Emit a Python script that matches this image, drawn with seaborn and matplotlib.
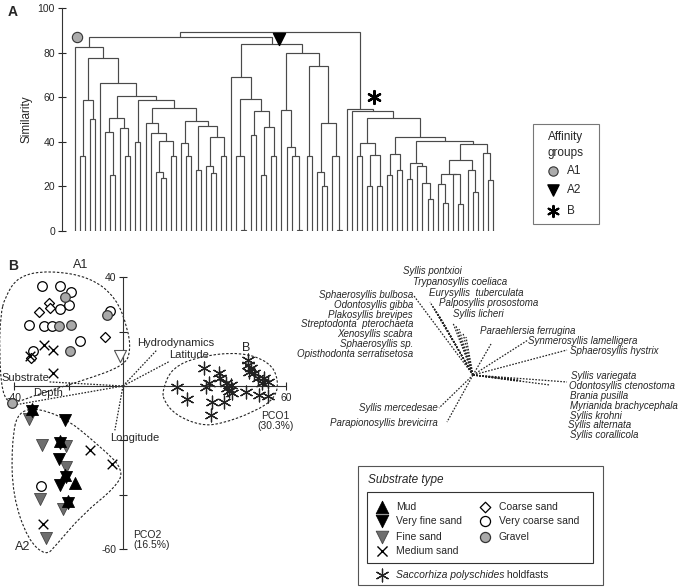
import numpy as np
import pandas as pd
import matplotlib
matplotlib.use("Agg")
import matplotlib.pyplot as plt
from matplotlib.path import Path
from matplotlib.patches import PathPatch, Rectangle
import seaborn as sns

# ---------------- panel A: cluster tree, node = (similarity, left, right) ----------------
L = None  # a single sample (leaf)

a1_tree = (82.4, L, (77.4,
    (58.7, (33.6, L, L), (50.1, L, L)),
    (66.2, L, (60.5,
        (50.5, (44.5, L, (25.1, L, L)), (46.0, L, (33.6, L, L))),
        (58.7, (40.1, L, L), (55.0,
            (48.6, L, (43.8, L, (40.5, (26.6, L, (23.6, L, L)), (33.6, L, L)))),
            (49.5, (39.3, L, (33.6, L, L)),
                   (47.1, (27.4, L, L),
                          (42.0, (29.1, L, (25.9, L, L)), (33.6, L, L))))))))))

a2_tree = (83.9,
    (68.9, L, (59.2, (33.6, L, (0.4, L, L)),
                     (53.9, (43.0, L, L), (46.5, (25.1, L, L), (33.6, L, L))))),
    (79.7, (54.3, L, (37.8, L, (33.6, L, (0.4, L, L)))),
           (74.0, (33.6, L, L),
                  (48.6, (26.6, L, (20.2, L, L)), (33.6, L, (0.4, L, L))))))

b_tree = (54.6, L, (53.8, L, (50.8,
    (39.6, (33.6, L, L), (34.1, (20.2, L, L), (20.2, L, L))),
    (42.2, (34.5, (25.1, L, L), (27.4, L, L)),
           (40.5, (30.6, (23.3, L, L), (29.1, L, (21.7, L, (14.2, L, L)))),
                  (39.0, (31.8, (25.6, (21.1, L, (12.4, L, L)), (25.4, L, (12.0, L, L))),
                                (27.4, L, (17.6, L, L))),
                         (35.1, L, (22.9, L, L))))))))

a1_a2_height = 87.1
root_height = 89.4
sim_ticks = [0, 20, 40, 60, 80, 100]
affinity_labels = ["A1", "A2", "B"]

# ---------------- panel B: PCO ordination ----------------
mud_x = [-33.6, -23.0, -21.4, -17.8, -20.2]
mud_y = [-8.5, -20.4, -32.7, -35.7, -42.3]
vfine_x = [-33.6, -21.5, -23.0, -23.6, -21.1, -23.3, -20.2]
vfine_y = [-9.3, -12.6, -21.0, -26.8, -33.6, -36.4, -43.1]
fine_x = [-34.4, -29.8, -20.9, -20.9, -30.5, -22.1, -28.3]
fine_y = [-12.2, -21.6, -21.9, -29.9, -41.4, -45.3, -55.8]
fine_pale_x = [-1.1]
fine_pale_y = [11.1]
medium_x = [-28.9, -25.8, -25.8, -34.2, -12.2, -4.2, -29.5]
medium_y = [15.2, 13.3, 4.7, 11.1, -23.7, -28.6, -50.9]
coarse_x = [-27.3, -31.0, -26.8, -6.7, -33.8]
coarse_y = [30.4, 27.2, 28.8, 18.0, 10.2]
vcoarse_x = [-29.8, -23.1, -19.0, -23.3, -19.9, -34.7, -29.1, -26.0, -15.7, -33.2, -4.8, -30.1]
vcoarse_y = [36.8, 36.8, 34.6, 28.4, 29.6, 22.6, 22.2, 22.2, 16.4, 12.7, 27.5, -36.7]
gravel_x = [-21.5, -23.6, -19.3, -5.8, -19.6, -40.9]
gravel_y = [32.7, 22.2, 22.6, 26.0, 12.7, -6.4]
kelp_x = [19.9, 23.6, 29.8, 30.4, 31.6, 35.3, 35.8, 32.8, 32.2, 37.2, 38.4, 39.0, 39.6, 38.0,
          40.0, 45.8, 46.5, 48.3, 49.6, 52.0, 53.2, 45.2, 50.1, 53.2, 51.0, 46.0, 47.0]
kelp_y = [-0.2, -4.6, 6.5, -0.2, 1.0, 4.7, 2.8, -5.8, -10.7, -5.8, -0.7, -1.9, 0.5, 1.2,
          -2.5, 7.8, 5.3, 4.7, 2.8, 2.8, 1.6, -2.1, -3.3, -3.7, 1.0, 9.5, 6.5]

a1_hull_x = [-43.5, -38.5, -27.0, -12.0, -2.5, 1.8, 2.8, 0.6, -14.7, -30.7, -41.0, -44.5, -45.5, -45.0]
a1_hull_y = [32.5, 40.5, 42.5, 40.0, 32.5, 21.0, 13.0, 7.5, 2.0, -2.8, -6.8, -3.0, 13.3, 26.0]
a2_hull_x = [-38.5, -23.3, -8.0, 0.5, -3.0, -14.7, -24.6, -28.3, -35.0, -40.5, -41.0]
a2_hull_y = [-7.5, -10.0, -22.5, -31.0, -37.5, -47.0, -58.5, -62.5, -56.5, -40.4, -21.9]
b_hull_x = [14.5, 18.0, 28.5, 43.3, 54.0, 57.2, 56.0, 48.3, 35.9, 28.5, 19.5, 15.0]
b_hull_y = [-1.5, 6.8, 11.0, 12.5, 8.8, 2.2, -4.5, -9.5, -14.0, -14.5, -10.8, -5.5]

env_names = ["Hydrodynamics", "Latitude", "Substrate", "Depth", "Longitude"]
env_x = [12.5, 17.0, -27.0, -40.0, -3.0]
env_y = [13.3, 9.0, 1.5, -7.0, -16.3]
env_lab_x = [5.1, 16.8, -44.6, -33.2, -4.8]
env_lab_y = [15.8, 11.5, 3.1, -2.7, -19.1]
pco_ticks_x = [-40, -20, 0, 20, 40, 60]
pco_ticks_y = [-60, -40, -20, 0, 20, 40]

# species correlation vectors (px units, y up) and label anchors (px, y down)
sp_names = ["Sphaerosyllis bulbosa", "Odontosyllis gibba", "Plakosyllis brevipes",
            "Streptodonta  pterochaeta", "Xenosyllis scabra", "Sphaerosyllis sp.",
            "Opisthodonta serratisetosa",
            "Syllis pontxioi", "Trypanosyllis coeliaca", "Eurysyllis  tuberculata",
            "Palposyllis prosostoma", "Syllis licheri",
            "Paraehlersia ferrugina", "Synmerosyllis lamelligera", "Sphaerosyllis hystrix",
            "Syllis variegata", "Odontosyllis ctenostoma", "Brania pusilla",
            "Myrianida brachycephala", "Syllis krohni", "Syllis alternata", "Syllis corallicola",
            "Syllis mercedesae", "Parapionosyllis brevicirra"]
sp_dx = [-59, -43, -41, -39, -37, -35, -33, -20, -17, -14, -10, -7, 18, 55, 94,
         94, 77, 48, 46, 44, 42, 40, -34, -26]
sp_dy = [79, 73, 70, 67, 64, 61, 58, 52, 49, 46, 42, 38, 31, 35, 25,
         -7, -10, -6, -5, -6, -5, -4, -33, -47]
sp_lab_x = [413, 413, 413, 413, 413, 413, 413, 403, 413, 429, 439, 453, 480, 528, 570,
            571, 569, 570, 570, 570, 568, 570, 438, 438]
sp_lab_y = [295, 305, 315, 324, 334, 344, 354, 271, 282, 293, 303, 314, 331, 341, 351,
            376, 386, 396, 406, 416, 425, 435, 408, 423]
sp_ha = ["right"] * 7 + ["left"] * 15 + ["right"] * 2

# ---------------- style ----------------
sns.set_style("white")
plt.rcParams["font.family"] = ["Liberation Sans", "DejaVu Sans"]
plt.rcParams["axes.unicode_minus"] = False

W, H = 685, 587
fig = plt.figure(figsize=(W / 100, H / 100), dpi=100)


def px_axes(x0, y0, x1, y1):
    return fig.add_axes([x0 / W, 1 - y1 / H, (x1 - x0) / W, (y1 - y0) / H])


def walk(node, counter, segs):
    if node is None:
        counter[0] += 1
        return counter[0] - 1, 0.0
    h, left, right = node
    xl, hl = walk(left, counter, segs)
    xr, hr = walk(right, counter, segs)
    segs.append(([xl, xl, xr, xr], [hl, h, h, hr]))
    return (xl + xr) / 2.0, h


def smooth_hull(ax, xs, ys, **kw):
    pts = np.column_stack([xs, ys])
    mids = (pts + np.roll(pts, -1, axis=0)) / 2
    verts, codes = [mids[-1]], [Path.MOVETO]
    for i in range(len(pts)):
        verts += [pts[i], mids[i]]
        codes += [Path.CURVE3, Path.CURVE3]
    ax.add_patch(PathPatch(Path(verts, codes), fill=False, **kw))


# ---------------- panel A ----------------
counter, segs = [0], []
a1_x, a1_h = walk(a1_tree, counter, segs)
a2_x, a2_h = walk(a2_tree, counter, segs)
b_x, b_h = walk(b_tree, counter, segs)
segs.append(([a1_x, a1_x, a2_x, a2_x], [a1_h, a1_a2_height, a1_a2_height, a2_h]))
a12_x = (a1_x + a2_x) / 2
segs.append(([a12_x, a12_x, b_x, b_x], [a1_a2_height, root_height, root_height, b_h]))
n_leaves = counter[0]

axA = px_axes(62, 8, 500, 231)
unit = (493 - 75) / (n_leaves - 1)
for xs, ys in segs:
    axA.plot(xs, ys, color="#4a4a4a", lw=0.85, solid_joinstyle="miter")
axA.scatter([a1_x - 2.3], [87.0], s=55, color="#ababab", edgecolor="#333333",
            linewidth=0.8, zorder=5, clip_on=False)
axA.scatter([a2_x + 1.5], [86.0], s=75, marker="v", color="black", zorder=5, clip_on=False)
axA.scatter([b_x + 2.8], [60.0], s=85, marker=(6, 2, 0), color="black",
            linewidth=1.7, zorder=5, clip_on=False)
axA.set_xlim(-(75 - 62) / unit, (n_leaves - 1) + (500 - 493) / unit)
axA.set_ylim(0, 100)
axA.set_yticks(sim_ticks)
axA.set_xticks([])
axA.tick_params(axis="y", direction="inout", length=6, width=0.8, labelsize=7.5,
                pad=2, left=True)
for s in ["top", "right", "bottom"]:
    axA.spines[s].set_visible(False)
axA.spines["left"].set_linewidth(0.8)
axA.spines["left"].set_color("#333333")
axA.set_ylabel("Similarity", fontsize=8.5)
axA.yaxis.set_label_coords(-0.068, 0.5)
axA.patch.set_visible(False)

# ---------------- panel B ----------------
axB = px_axes(0, 255, 300, 575)
ox, oy, sc = 123, 386, 2.72
axB.set_xlim((0 - ox) / sc, (300 - ox) / sc)
axB.set_ylim((oy - 575) / sc, (oy - 255) / sc)
axB.patch.set_visible(False)

for hx, hy in [(a1_hull_x, a1_hull_y), (a2_hull_x, a2_hull_y), (b_hull_x, b_hull_y)]:
    smooth_hull(axB, hx, hy, ls=(0, (2.2, 1.6)), lw=0.8, edgecolor="#222222", zorder=1)

for name, ex, ey, lx, ly in zip(env_names, env_x, env_y, env_lab_x, env_lab_y):
    axB.plot([0, ex], [0, ey], ls=(0, (1.3, 1.2)), lw=0.9, color="#222222", zorder=2)
    axB.text(lx, ly, name, fontsize=8, ha="left", va="center", zorder=4)

groups = {
    "Very coarse sand": (vcoarse_x, vcoarse_y, dict(marker="o", s=48, color="white",
                                                    edgecolor="black", linewidth=0.9)),
    "Gravel": (gravel_x, gravel_y, dict(marker="o", s=48, color="#a9a9a9",
                                        edgecolor="#333333", linewidth=0.9)),
    "Coarse sand": (coarse_x, coarse_y, dict(marker="D", s=26, color="white",
                                             edgecolor="black", linewidth=0.9)),
    "Medium sand": (medium_x, medium_y, dict(marker="x", s=48, color="black", linewidth=1.0)),
    "Fine sand pale": (fine_pale_x, fine_pale_y, dict(marker="v", s=75, color="white",
                                                      edgecolor="#555555", linewidth=0.8)),
    "Fine sand": (fine_x, fine_y, dict(marker="v", s=75, color="#6e6e6e",
                                       edgecolor="#444444", linewidth=0.6)),
    "Very fine sand": (vfine_x, vfine_y, dict(marker="v", s=75, color="black",
                                              edgecolor="black", linewidth=0.6)),
    "Mud": (mud_x, mud_y, dict(marker="^", s=75, color="black", edgecolor="black",
                               linewidth=0.6)),
    "Saccorhiza": (kelp_x, kelp_y, dict(marker=(6, 2, 0), s=85, color="#222222",
                                        linewidth=0.9)),
}
pco = pd.concat([pd.DataFrame({"x": gx, "y": gy, "substrate": g})
                 for g, (gx, gy, _) in groups.items()], ignore_index=True)
for g, (_, _, sty) in groups.items():
    sns.scatterplot(data=pco[pco["substrate"] == g], x="x", y="y", ax=axB,
                    legend=False, zorder=3, clip_on=False, **sty)

for s in ["top", "right"]:
    axB.spines[s].set_visible(False)
axB.spines["left"].set_position(("data", 0))
axB.spines["bottom"].set_position(("data", 0))
axB.spines["left"].set_bounds(min(pco_ticks_y), max(pco_ticks_y))
axB.spines["bottom"].set_bounds(min(pco_ticks_x), max(pco_ticks_x))
for s in ["left", "bottom"]:
    axB.spines[s].set_linewidth(0.8)
    axB.spines[s].set_color("#333333")
axB.set_xticks(pco_ticks_x)
axB.set_xticklabels([str(t) if t in (pco_ticks_x[0], pco_ticks_x[-1]) else "" for t in pco_ticks_x])
axB.set_yticks(pco_ticks_y)
axB.set_yticklabels([str(t) if t in (pco_ticks_y[0], pco_ticks_y[-1]) else "" for t in pco_ticks_y])
axB.tick_params(axis="x", direction="inout", length=6, width=0.8, labelsize=7.5, pad=2,
                bottom=True)
axB.tick_params(axis="y", direction="inout", length=6, width=0.8, labelsize=7.5, pad=2,
                left=True)
axB.set_xlabel("")
axB.set_ylabel("")
axB.text(56, -12.7, "PCO1\n(30.3%)", fontsize=7.5, ha="center", va="center", linespacing=1.0)
axB.text(3.7, -56.8, "PCO2\n(16.5%)", fontsize=7.5, ha="left", va="center", linespacing=1.0)
axB.text(-18.4, 44.6, "A1", fontsize=9, ha="left", va="center")
axB.text(-39.7, -59.2, "A2", fontsize=9, ha="left", va="center")
axB.text(45.2, 14.0, "B", fontsize=9, ha="center", va="center")

# ---------------- overlay: species biplot, legends, panel letters ----------------
axO = fig.add_axes([0, 0, 1, 1])
axO.set_xlim(0, W)
axO.set_ylim(H, 0)
axO.axis("off")
axO.patch.set_alpha(0)

sx, sy = 473, 375
for name, dx, dy, lx, ly, ha in zip(sp_names, sp_dx, sp_dy, sp_lab_x, sp_lab_y, sp_ha):
    axO.plot([sx, sx + dx], [sy, sy - dy], ls=(0, (1.3, 1.2)), lw=0.9, color="#222222")
    axO.text(lx, ly, name, fontsize=7, style="italic", ha=ha, va="center")

axO.text(8, 12, "A", fontsize=10, fontweight="bold", ha="left", va="center")
axO.text(8, 266, "B", fontsize=10, fontweight="bold", ha="left", va="center")

# affinity groups legend
axO.add_patch(Rectangle((533, 124), 66, 100, fill=False, edgecolor="#777777", lw=0.8))
axO.text(566, 137, "Affinity", fontsize=8.5, ha="center", va="center")
axO.text(566, 153, "groups", fontsize=8.5, ha="center", va="center")
aff_style = [dict(marker="o", s=45, color="#ababab", edgecolor="#333333", linewidth=0.8),
             dict(marker="v", s=65, color="black"),
             dict(marker=(6, 2, 0), s=65, color="black", linewidth=1.5)]
for lab, yy, st in zip(affinity_labels, [171, 190, 211], aff_style):
    axO.scatter([553], [yy], **st)
    axO.text(567, yy, lab, fontsize=8.5, ha="left", va="center")

# substrate type legend
axO.add_patch(Rectangle((358, 466), 245, 119, fill=False, edgecolor="#555555", lw=0.8))
axO.add_patch(Rectangle((367, 492), 226, 71, fill=False, edgecolor="#333333", lw=0.8))
axO.text(368, 480, "Substrate type", fontsize=8.5, style="italic", ha="left", va="center")
leg_rows = [("Mud", 382, 507, "Mud"), ("Very fine sand", 382, 521, "Very fine sand"),
            ("Fine sand", 382, 537, "Fine sand"), ("Medium sand", 382, 551, "Medium sand"),
            ("Coarse sand", 485, 507, "Coarse sand"),
            ("Very coarse sand", 485, 521, "Very coarse sand"),
            ("Gravel", 485, 537, "Gravel")]
for key, xx, yy, lab in leg_rows:
    st = dict(groups[key][2])
    st["s"] = st["s"] * 1.1
    axO.scatter([xx], [yy], **st)
    axO.text(xx + 14, yy, lab, fontsize=7.5, ha="left", va="center")
st = dict(groups["Saccorhiza"][2])
axO.scatter([382], [575], **st)
t1 = axO.text(396, 575, "Saccorhiza polyschides", fontsize=7.5, style="italic",
              ha="left", va="center")
axO.annotate(" holdfasts", xy=(1, 0.5), xycoords=t1, fontsize=7.5, ha="left", va="center")

fig.savefig("out.png", dpi=100)
